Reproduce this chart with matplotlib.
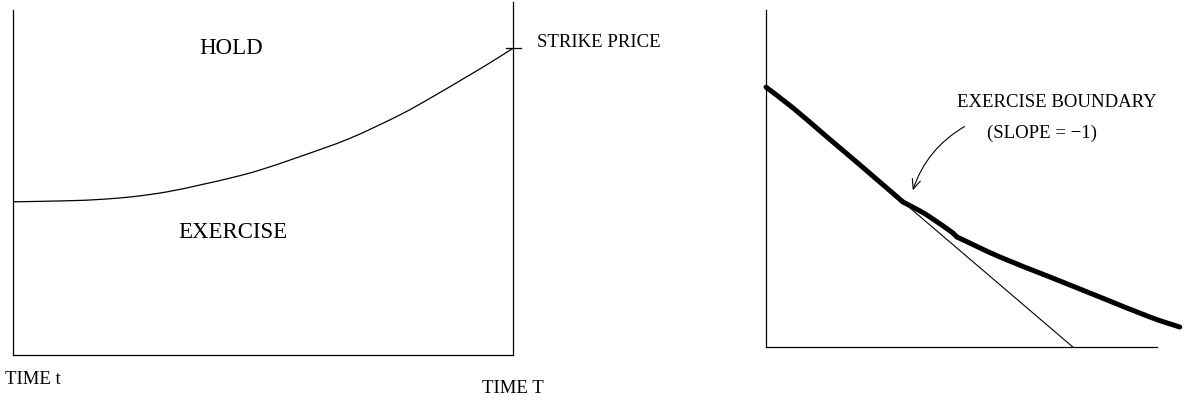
import matplotlib.pyplot as plt
from matplotlib.patches import FancyArrowPatch, PathPatch
from matplotlib.path import Path

plt.rcParams['font.family'] = ['Liberation Serif', 'DejaVu Serif']

# left panel: early exercise boundary over time (time t -> time T)
time_frac = [0.0, 0.109, 0.175, 0.241, 0.309, 0.375, 0.441, 0.494, 0.574, 0.674,
             0.774, 0.840, 0.908, 0.954, 1.0]
boundary = [0.444, 0.447, 0.451, 0.459, 0.473, 0.493, 0.515, 0.536, 0.575, 0.628,
            0.696, 0.749, 0.807, 0.847, 0.889]
strike = 0.889

# right panel: option value vs stock price, tangent with slope -1
price_a = [0.0, 0.27, 0.61, 0.94, 1.37]
value_a = [3.045, 2.802, 2.462, 2.134, 1.700]
price_b = [1.37, 1.61, 1.87]
value_b = [1.700, 1.547, 1.336]
price_c = [1.91, 2.34, 2.84, 3.34, 3.84, 4.14]
value_c = [1.290, 1.055, 0.821, 0.586, 0.352, 0.234]
touch_price = 1.37
tangent_k = 3.07


def smooth_path(xs, ys):
    # Catmull-Rom through the read points, drawn as cubic Bezier segments
    pts = list(zip(xs, ys))
    verts = [pts[0]]
    codes = [Path.MOVETO]
    for i in range(len(pts) - 1):
        p0 = pts[i - 1] if i > 0 else pts[i]
        p1, p2 = pts[i], pts[i + 1]
        p3 = pts[i + 2] if i + 2 < len(pts) else pts[i + 1]
        c1 = (p1[0] + (p2[0] - p0[0]) / 6, p1[1] + (p2[1] - p0[1]) / 6)
        c2 = (p2[0] - (p3[0] - p1[0]) / 6, p2[1] - (p3[1] - p1[1]) / 6)
        verts += [c1, c2, p2]
        codes += [Path.CURVE4] * 3
    return Path(verts, codes)


fig = plt.figure(figsize=(11.84, 4.0), dpi=100)

# ---- left panel
ax1 = fig.add_axes([0.0106, 0.1125, 0.4227, 0.8625])
ax1.set_xlim(0, 1)
ax1.set_ylim(0, 1)
for s in ['top', 'right']:
    ax1.spines[s].set_visible(False)
for s in ['left', 'bottom']:
    ax1.spines[s].set_linewidth(0.9)
ax1.set_xticks([])
ax1.set_yticks([])
ax1.patch.set_alpha(0)

ax1.add_patch(PathPatch(smooth_path(time_frac, boundary), fill=False, color='black', lw=0.9))
# maturity line and strike tick
ax1.plot([1, 1], [0, 1.022], color='black', lw=0.9, clip_on=False)
ax1.plot([0.985, 1.015], [strike, strike], color='black', lw=0.9, clip_on=False)

ax1.text(0.437, 0.887, 'HOLD', fontsize=16.5, ha='center', va='center')
ax1.text(0.441, 0.354, 'EXERCISE', fontsize=16.5, ha='center', va='center')
ax1.text(1.048, 0.907, 'STRIKE PRICE', fontsize=13.5, ha='left', va='center')
ax1.text(-0.015, -0.072, 'TIME t', fontsize=13.5, ha='left', va='center')
ax1.text(1.0, -0.096, 'TIME T', fontsize=13.5, ha='center', va='center')

# ---- right panel
ax2 = fig.add_axes([0.647, 0.1325, 0.330, 0.8425])
ax2.set_xlim(0, 3.91)
ax2.set_ylim(0, 3.95)
for s in ['top', 'right']:
    ax2.spines[s].set_visible(False)
for s in ['left', 'bottom']:
    ax2.spines[s].set_linewidth(0.9)
ax2.set_xticks([])
ax2.set_yticks([])
ax2.patch.set_alpha(0)

for xs, ys in [(price_a, value_a), (price_b, value_b), (price_c, value_c)]:
    ax2.add_patch(PathPatch(smooth_path(xs, ys), fill=False, color='black', lw=3.6,
                            capstyle='round', joinstyle='round', clip_on=False))
ax2.plot([price_b[-1], price_c[0]], [value_b[-1], value_c[0]], color='black', lw=3.6,
         solid_capstyle='round', clip_on=False)
ax2.plot([touch_price, tangent_k], [tangent_k - touch_price, 0], color='black', lw=0.8)

ax2.text(2.905, 2.86, 'EXERCISE BOUNDARY', fontsize=13.5, ha='center', va='center')
ax2.text(2.765, 2.509, '(SLOPE = \u22121)', fontsize=13.5, ha='center', va='center')

arrow = FancyArrowPatch((2.01, 2.60), (1.46, 1.805), arrowstyle='->,head_length=7,head_width=3',
                        connectionstyle='arc3,rad=0.2', color='black', lw=0.8)
ax2.add_patch(arrow)

fig.savefig('out.png', dpi=100)
